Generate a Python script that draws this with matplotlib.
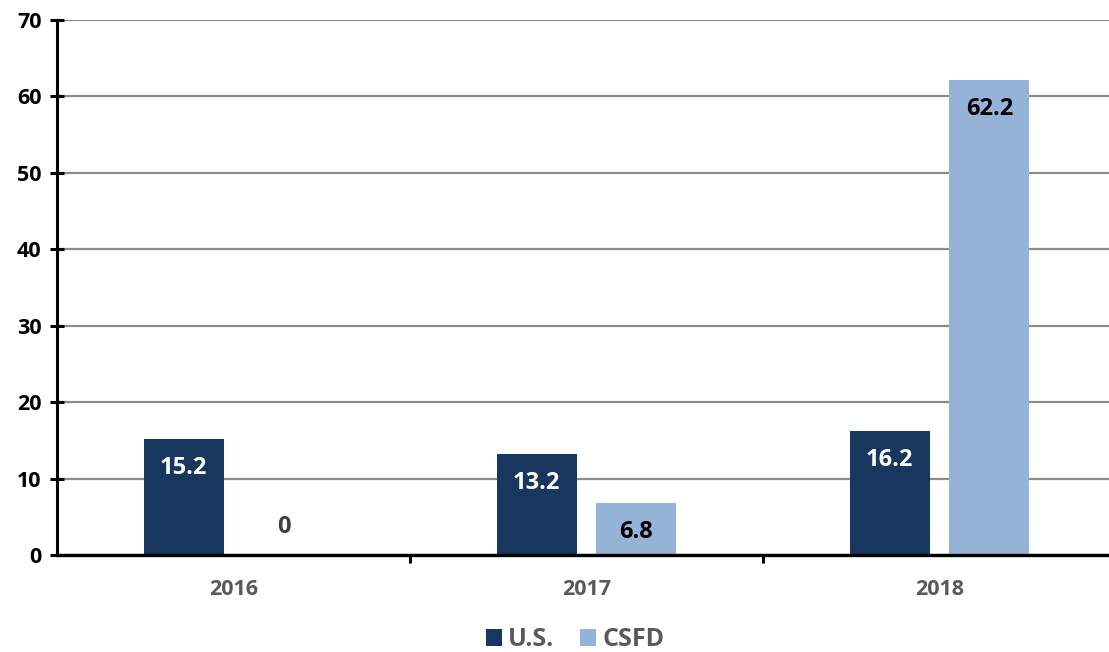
import numpy as np
import matplotlib.pyplot as plt

plt.rcParams['font.family'] = ['Open Sans', 'DejaVu Sans']
plt.rcParams['font.weight'] = 'bold'

years = ['2016', '2017', '2018']
us_values = [15.2, 13.2, 16.2]
csfd_values = [0, 6.8, 62.2]
series_names = ['U.S.', 'CSFD']

NAVY = '#17375e'
LIGHT = '#95b3d7'
GREY_TEXT = '#595959'

fig = plt.figure(figsize=(11.09, 6.52), dpi=100)
# plot area runs off the right edge of the canvas
ax = fig.add_axes([57 / 1109, 97 / 652, 1059 / 1109, 535 / 652])

x = np.arange(len(years))
offset = 0.1416
width = 0.2266

bars_us = ax.bar(x - offset, us_values, width, color=NAVY, label=series_names[0], zorder=3)
bars_csfd = ax.bar(x + offset, csfd_values, width, color=LIGHT, label=series_names[1], zorder=3)

# value labels sit just inside the top of each bar; an empty bar gets its label above the baseline
for rects, vals, color in [(bars_us, us_values, 'white'), (bars_csfd, csfd_values, 'black')]:
    for rect, val in zip(rects, vals):
        dy = -21 if val > 0 else 20
        ax.annotate(f'{val:g}', (rect.get_x() + rect.get_width() / 2, val),
                    xytext=(0, dy), textcoords='offset points',
                    ha='center', va='center', fontsize=17, fontweight='bold',
                    color=color if val > 0 else '#404040')

ax.set_xlim(-0.5, 2.5)
ax.set_ylim(0, 70)
ax.set_yticks(range(0, 71, 10))
ax.yaxis.grid(True, color='#8c8c8c', linewidth=1.6, zorder=0)
ax.set_axisbelow(True)

ax.set_xticks(x)
ax.set_xticklabels(years)
ax.set_xticks([0.5, 1.5], minor=True)
ax.tick_params(axis='x', which='major', length=0, pad=17, labelsize=15.5, labelcolor=GREY_TEXT)
ax.tick_params(axis='x', which='minor', length=6, width=2.2, direction='out', color='black')
ax.tick_params(axis='y', length=10, width=2.2, direction='inout', labelsize=15.5, pad=6)

for side in ['top', 'right']:
    ax.spines[side].set_visible(False)
ax.spines['left'].set_linewidth(2.2)
ax.spines['bottom'].set_linewidth(2.4)
for side in ['left', 'bottom']:
    ax.spines[side].set_zorder(4)

leg = fig.legend(loc='center', bbox_to_anchor=(575 / 1109, 1 - 640 / 652), ncol=2,
                 frameon=False, fontsize=18, handlelength=0.65, handleheight=0.65,
                 handletextpad=0.25, columnspacing=1.0)
for t in leg.get_texts():
    t.set_color(GREY_TEXT)

fig.savefig('out.png', dpi=100)
